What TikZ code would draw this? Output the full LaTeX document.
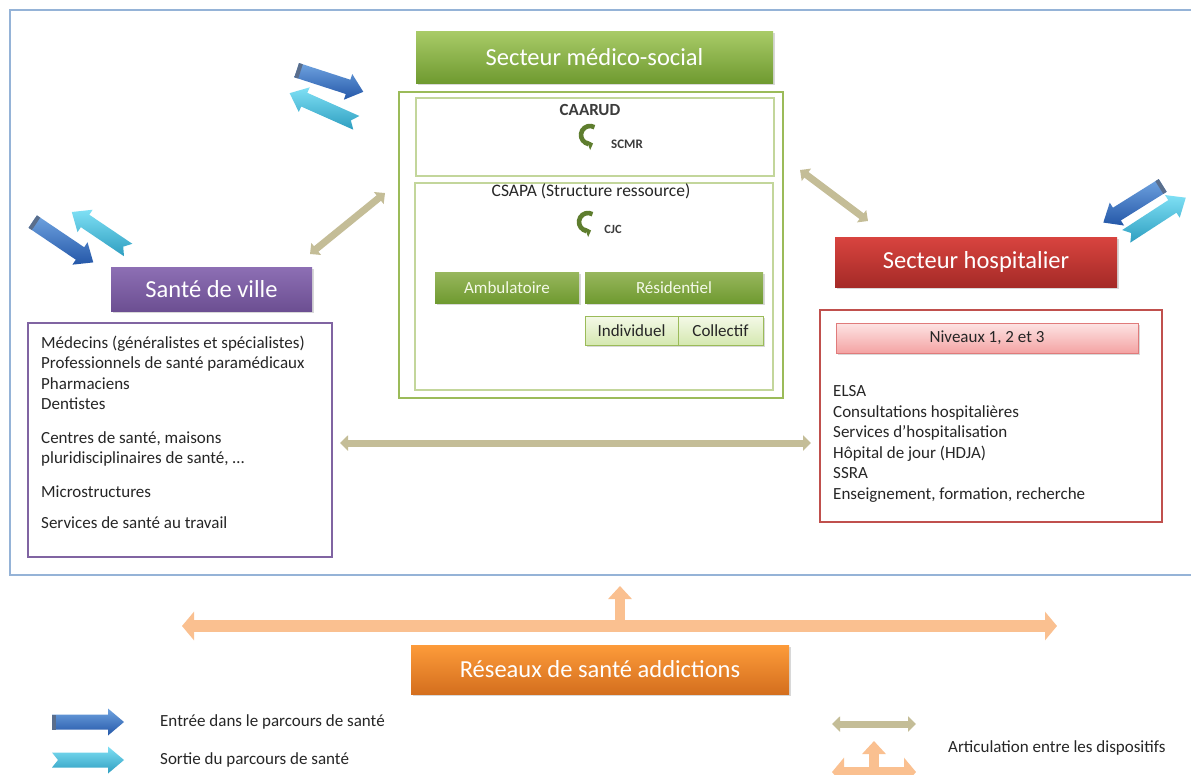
\documentclass[tikz,border=0pt]{standalone}
\usepackage{fontspec}
\setmainfont{Carlito}
\usetikzlibrary{arrows.meta,shadows,calc}
\definecolor{framec}{HTML}{95B3D7}
\definecolor{grnL}{HTML}{A9CB68}
\definecolor{grnD}{HTML}{6F9A30}
\definecolor{grnB}{HTML}{9BBB59}
\definecolor{grnI}{HTML}{C3D69B}
\definecolor{grnPL}{HTML}{F4F9E8}
\definecolor{grnPD}{HTML}{D5E8B0}
\definecolor{symc}{HTML}{5E7D2E}
\definecolor{purL}{HTML}{8D6FB4}
\definecolor{purD}{HTML}{6C4F92}
\definecolor{purB}{HTML}{8064A2}
\definecolor{redL}{HTML}{D8443F}
\definecolor{redD}{HTML}{A52A27}
\definecolor{redB}{HTML}{C0504D}
\definecolor{pinkL}{HTML}{FDE4E4}
\definecolor{pinkD}{HTML}{F4A3A3}
\definecolor{pinkB}{HTML}{E07B7B}
\definecolor{orL}{HTML}{FD9B3A}
\definecolor{orD}{HTML}{D46F1E}
\definecolor{peach}{HTML}{FAC090}
\definecolor{tanc}{HTML}{C4BD97}
\definecolor{bluL}{HTML}{6FA3E0}
\definecolor{bluD}{HTML}{2457A8}
\definecolor{bluC}{HTML}{5A6E8C}
\definecolor{cyaL}{HTML}{7FE0F5}
\definecolor{cyaD}{HTML}{2E9EC0}
\definecolor{txt}{HTML}{262626}
\newcommand\blockarrow[5]{%
  \begin{scope}[shift={(#1)},rotate=#2]
    \pgfmathsetmacro\ha{#3/2}\pgfmathsetmacro\hb{#3/2-16}\pgfmathsetmacro\hn{-#3/2+#5}\pgfmathsetmacro\hc{-#3/2+4}
    \path[#4] (-\ha,-7.5) -- (\hb,-7.5) -- (\hb,-13.5) -- (\ha,0) -- (\hb,13.5) -- (\hb,7.5) -- (-\ha,7.5) -- (\hn,0) -- cycle;
    \ifnum#5=0 \fill[bluC] (-\ha,-7.5) rectangle (\hc,7.5);\fi
  \end{scope}}
\begin{document}
\begin{tikzpicture}[x=1pt,y=-1pt,
  hdr/.style={minimum width=#1, inner sep=0pt, text=white, font=\fontsize{24.5}{28}\selectfont,
    drop shadow={shadow xshift=1.5pt, shadow yshift=-2pt, opacity=0.3}},
  greenhdr/.style={hdr=#1, top color=grnL, bottom color=grnD},
  subgreen/.style={minimum width=#1, minimum height=31pt, inner sep=0pt, top color=grnL!90!black, bottom color=grnD,
    text=grnPL, font=\fontsize{17}{20}\selectfont,
    drop shadow={shadow xshift=1.5pt, shadow yshift=-2pt, opacity=0.3}},
  palegreen/.style={minimum width=#1, minimum height=29pt, inner sep=0pt, draw=grnB, line width=1pt,
    top color=grnPL, bottom color=grnPD, text=txt, font=\fontsize{17}{20}\selectfont,
    drop shadow={shadow xshift=1.5pt, shadow yshift=-2pt, opacity=0.3}},
  frame/.style={draw=#1, inner sep=0pt, fill=white},
  body/.style={anchor=base west, inner sep=0pt, text=txt, font=\fontsize{17}{20}\selectfont},
  leg/.style={anchor=west, inner sep=0pt, text=txt, font=\fontsize{17}{20}\selectfont},
  tanarrow/.style={draw=tanc, line width=7pt, {Triangle[length=8pt,width=15pt]}-{Triangle[length=8pt,width=15pt]}},
  peacharrow/.style={draw=peach, line width=12pt, {Triangle[length=12pt,width=28pt]}-{Triangle[length=12pt,width=28pt]}},
  peachup/.style={draw=peach, line width=10pt, -{Triangle[length=13pt,width=23pt]}},
  bluearr/.style={top color=bluL, bottom color=bluD},
  cyanarr/.style={top color=cyaL, bottom color=cyaD},
  symb/.style={draw=symc, line width=4.6pt, -{Triangle[length=5pt,width=10pt]}}
]
\clip (0,0) rectangle (1191,774);
\fill[white] (0,0) rectangle (1191,774);
% outer frame
\draw[framec, line width=1.2pt] (10,10) rectangle (1205,575);

% ---- medico-social
\node[greenhdr=357pt, minimum height=52pt] (msh) at (594.5,57) {Secteur m\'edico-social};
\node[frame=grnB, line width=2.5pt, minimum width=384pt, minimum height=306pt] (ms) at (591,245) {};
\node[frame=grnI, line width=1.5pt, minimum width=358pt, minimum height=78pt] (caarud) at (595,137) {};
\node[frame=grnI, line width=1.5pt, minimum width=358pt, minimum height=207pt] (csapa) at (594,286.5) {};
\node[inner sep=0pt, text=txt!90, font=\bfseries\fontsize{17}{20}\selectfont] (caarudt) at (590,110) {CAARUD};
\node[inner sep=0pt, text=txt!90, font=\bfseries\fontsize{13}{15}\selectfont] (scmr) at (627,144) {SCMR};
\node[inner sep=0pt, text=txt, font=\fontsize{17.5}{20}\selectfont] (csapat) at (591,191) {CSAPA (Structure ressource)};
\node[inner sep=0pt, text=txt!90, font=\bfseries\fontsize{12.5}{15}\selectfont] (cjc) at (613,229) {CJC};
\coordinate (s1) at (590,135);
\coordinate (s2) at (588,222);
\draw[symb] ($(s1)+(300:9)$) arc[start angle=300, end angle=70, radius=9];
\draw[symb] ($(s2)+(300:9)$) arc[start angle=300, end angle=70, radius=9];
\node[subgreen=144pt] (amb) at (507,287.5) {Ambulatoire};
\node[subgreen=178pt] (res) at (674,287.5) {R\'esidentiel};
\node[palegreen=93pt] (ind) at (631.5,330.5) {Individuel};
\node[palegreen=85pt] (col) at (720.5,330.5) {Collectif};

% ---- sante de ville
\node[hdr=201pt, minimum height=44pt, top color=purL, bottom color=purD] (svh) at (211.5,289) {Sant\'e de ville};
\node[frame=purB, line width=2pt, minimum width=304pt, minimum height=234pt] (sv) at (180,440) {};
\node[body] (l1) at (41,348) {M\'edecins (g\'en\'eralistes et sp\'ecialistes)};
\node[body] (l2) at (41,368.5) {Professionnels de sant\'e param\'edicaux};
\node[body] (l3) at (41,389) {Pharmaciens};
\node[body] (l4) at (41,409) {Dentistes};
\node[body] (l5) at (41,443) {Centres de sant\'e, maisons};
\node[body] (l6) at (41,463.5) {pluridisciplinaires de sant\'e, \dots};
\node[body] (l7) at (41,497.5) {Microstructures};
\node[body] (l8) at (41,528) {Services de sant\'e au travail};

% ---- secteur hospitalier
\node[hdr=282pt, minimum height=50pt, top color=redL, bottom color=redD] (shh) at (976,262) {Secteur hospitalier};
\node[frame=redB, line width=2pt, minimum width=342pt, minimum height=212pt] (sh) at (991,416) {};
\node[minimum width=302pt, minimum height=30pt, inner sep=0pt, draw=pinkB, line width=0.8pt, top color=pinkL, bottom color=pinkD,
  text=txt, font=\fontsize{17}{20}\selectfont, drop shadow={shadow xshift=1.5pt, shadow yshift=-2pt, opacity=0.3}] (niv) at (987,338) {Niveaux 1, 2 et 3};
\node[body] (r1) at (833,396.5) {ELSA};
\node[body] (r2) at (833,417) {Consultations hospitali\`eres};
\node[body] (r3) at (833,437.5) {Services d’hospitalisation};
\node[body] (r4) at (833,458) {H\^opital de jour (HDJA)};
\node[body] (r5) at (833,478.5) {SSRA};
\node[body] (r6) at (833,499) {Enseignement, formation, recherche};

% ---- tan articulation arrows
\coordinate (ta1) at (310,254);
\coordinate (ta2) at (385,193);
\coordinate (tb1) at (800,170);
\coordinate (tb2) at (868,221);
\coordinate (tc1) at (340,443);
\coordinate (tc2) at (811,443);
\draw[tanarrow] (ta1) -- (ta2);
\draw[tanarrow] (tb1) -- (tb2);
\draw[tanarrow] (tc1) -- (tc2);

% ---- block arrows
\blockarrow{330,81}{-18}{70}{bluearr}{0}
\blockarrow{323,108}{156}{73}{cyanarr}{6}
\blockarrow{63,242}{-34}{73}{bluearr}{0}
\blockarrow{100,231}{146}{68}{cyanarr}{6}
\blockarrow{1133,204}{212}{70}{bluearr}{0}
\blockarrow{1156,217}{33}{71}{cyanarr}{6}

% ---- reseaux
\coordinate (oL) at (182,626);
\coordinate (oR) at (1057,626);
\coordinate (oB) at (620,631);
\coordinate (oT) at (620,586);
\draw[peacharrow] (oL) -- (oR);
\draw[peachup] (oB) -- (oT);
\node[hdr=378pt, minimum height=49pt, top color=orL, bottom color=orD] (res2) at (600,669.5) {R\'eseaux de sant\'e addictions};

% ---- legend
\blockarrow{88,722}{0}{72}{bluearr}{0}
\blockarrow{88,760}{0}{72}{cyanarr}{6}
\node[leg] (lg1) at (160,722) {Entr\'ee dans le parcours de sant\'e};
\node[leg] (lg2) at (160,760) {Sortie du parcours de sant\'e};
\coordinate (lt1) at (832,724);
\coordinate (lt2) at (916,724);
\draw[tanarrow] (lt1) -- (lt2);
\coordinate (lp1) at (832,772);
\coordinate (lp2) at (916,772);
\coordinate (lpb) at (874,772);
\coordinate (lpt) at (874,741);
\draw[peacharrow, line width=11pt] (lp1) -- (lp2);
\draw[peachup] (lpb) -- (lpt);
\node[leg] (lg3) at (948,748) {Articulation entre les dispositifs};
\end{tikzpicture}
\end{document}
